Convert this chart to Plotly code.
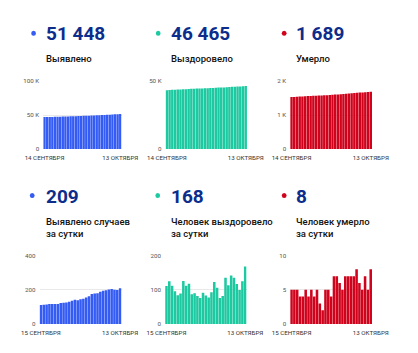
import plotly.graph_objects as go
import pandas as pd

W, H = 418, 353

dates_total = [d.strftime("%Y-%m-%d") for d in pd.date_range("2020-09-14", "2020-10-13")]
dates_daily = [d.strftime("%Y-%m-%d") for d in pd.date_range("2020-09-15", "2020-10-13")]

cases_total = [46996, 47106, 47218, 47332, 47448, 47565, 47682, 47798, 47920, 48044,
               48170, 48300, 48435, 48577, 48715, 48859, 49007, 49162, 49324, 49499,
               49677, 49857, 50045, 50239, 50436, 50637, 50841, 51041, 51239, 51448]
recovered_total = [43392, 43503, 43628, 43740, 43836, 43920, 44009, 44135, 44247, 44365,
                   44452, 44542, 44624, 44700, 44791, 44874, 44951, 45044, 45167, 45273,
                   45349, 45431, 45566, 45679, 45821, 45956, 46073, 46172, 46297, 46465]
deaths_total = [1532, 1537, 1542, 1547, 1551, 1555, 1560, 1564, 1569, 1573,
                1578, 1581, 1583, 1588, 1593, 1597, 1604, 1611, 1617, 1622,
                1629, 1636, 1643, 1650, 1658, 1664, 1669, 1676, 1681, 1689]

cases_daily = [110, 112, 114, 116, 117, 117, 116, 122, 124, 126, 130, 135, 142, 138, 144,
               148, 155, 162, 175, 178, 180, 188, 194, 197, 201, 204, 200, 198, 209]
recovered_daily = [111, 125, 112, 96, 84, 89, 126, 112, 118, 87, 90, 82, 76, 91, 83,
                   77, 93, 123, 106, 76, 82, 135, 113, 142, 135, 117, 99, 125, 168]
deaths_daily = [5, 5, 5, 4, 4, 5, 4, 5, 4, 5, 3, 2, 5, 5, 4,
                7, 7, 6, 5, 7, 7, 7, 7, 8, 6, 5, 7, 5, 8]

big_numbers = ["51 448", "46 465", "1 689", "209", "168", "8"]
titles = ["Выявлено", "Выздоровело", "Умерло",
          "Выявлено случаев<br>за сутки", "Человек выздоровело<br>за сутки", "Человек умерло<br>за сутки"]
x_labels_top = ["14 СЕНТЯБРЯ", "13 ОКТЯБРЯ"]
x_labels_bottom = ["15 СЕНТЯБРЯ", "13 ОКТЯБРЯ"]

y_ticks = [
    ([0, 50000, 100000], ["0", "50 K", "100 K"]),
    ([0, 50000], ["0", "50 K"]),
    ([0, 1000, 2000], ["0", "1 K", "2 K"]),
    ([0, 200, 400], ["0", "200", "400"]),
    ([0, 100, 200], ["0", "100", "200"]),
    ([0, 5, 10], ["0", "5", "10"]),
]

BLUE = "#345bf3"
GREEN = "#1dc9a0"
RED = "#d0031c"
NAVY = "#0c2d8c"
colors = [BLUE, GREEN, RED, BLUE, GREEN, RED]

series = [
    (dates_total, cases_total), (dates_total, recovered_total), (dates_total, deaths_total),
    (dates_daily, cases_daily), (dates_daily, recovered_daily), (dates_daily, deaths_daily),
]

# layout in pixels
xdom_px = [(27.5, 113), (161, 250), (297, 386.5), (23.5, 113), (160.5, 249.5), (297, 386.5)]
ydom_px = [(79, 148.3)] * 3 + [(257.5, 327.3)] * 3
dot_px = [(17, 30), (153, 30), (290.5, 30), (15.5, 196), (152.5, 196), (290.5, 196)]
num_x = [28, 164.5, 301.5, 28, 164.5, 301]
num_y = [30, 30, 30, 196.5, 196.5, 196.5]
title_y_top = [55, 55, 55, 221.5, 221.5, 221.5]

def px(x):
    return x / W

def py(y):
    return 1 - y / H

fig = go.Figure()
annotations = []
shapes = []
for i, ((xs, ys), col) in enumerate(zip(series, colors)):
    ax = "" if i == 0 else str(i + 1)
    fig.add_trace(go.Bar(x=xs, y=ys, marker=dict(color=col, line=dict(width=0)),
                         xaxis="x" + ax, yaxis="y" + ax, hoverinfo="x+y"))
    x0, x1 = xdom_px[i]
    y0, y1 = ydom_px[i]
    tv, tt = y_ticks[i]
    xl = x_labels_top if i < 3 else x_labels_bottom
    fig.layout["xaxis" + ax] = dict(
        domain=[px(x0), px(x1)], anchor="y" + ax, type="category",
        tickvals=[xs[0], xs[-1]], ticktext=xl, ticks="", showgrid=False,
        zeroline=False, showline=False, ticklabelstandoff=4,
        tickfont=dict(family="Roboto", size=6.2, color="#333"), tickangle=0,
    )
    fig.layout["yaxis" + ax] = dict(
        domain=[py(y1), py(y0)], anchor="x" + ax, range=[0, tv[-1]],
        tickvals=tv, ticktext=tt, ticks="", showgrid=True, gridcolor="#e9e9e9",
        gridwidth=1, zeroline=False, showline=False, ticklabelstandoff=3,
        tickfont=dict(family="Roboto", size=6.2, color="#555"),
    )
    dx, dy = dot_px[i]
    r = 2.6
    shapes.append(dict(type="circle", xref="paper", yref="paper",
                       x0=px(dx - r), x1=px(dx + r), y0=py(dy + r), y1=py(dy - r),
                       fillcolor=col, line=dict(width=0)))
    annotations.append(dict(text=big_numbers[i], xref="paper", yref="paper",
                            x=px(num_x[i]), y=py(num_y[i]), xanchor="left", yanchor="middle",
                            showarrow=False,
                            font=dict(family="Roboto", size=19, color=NAVY, weight="bold")))
    annotations.append(dict(text=titles[i], xref="paper", yref="paper",
                            x=px(num_x[i]), y=py(title_y_top[i] - 7), xanchor="left", yanchor="top",
                            showarrow=False, align="left",
                            font=dict(family="Roboto", size=9.5, color="#111", weight=500)))

fig.update_layout(
    width=W, height=H, margin=dict(l=0, r=0, t=0, b=0),
    paper_bgcolor="white", plot_bgcolor="white",
    showlegend=False, bargap=0.1,
    annotations=annotations, shapes=shapes,
)

fig.write_html("out.html", config={"displayModeBar": False})
